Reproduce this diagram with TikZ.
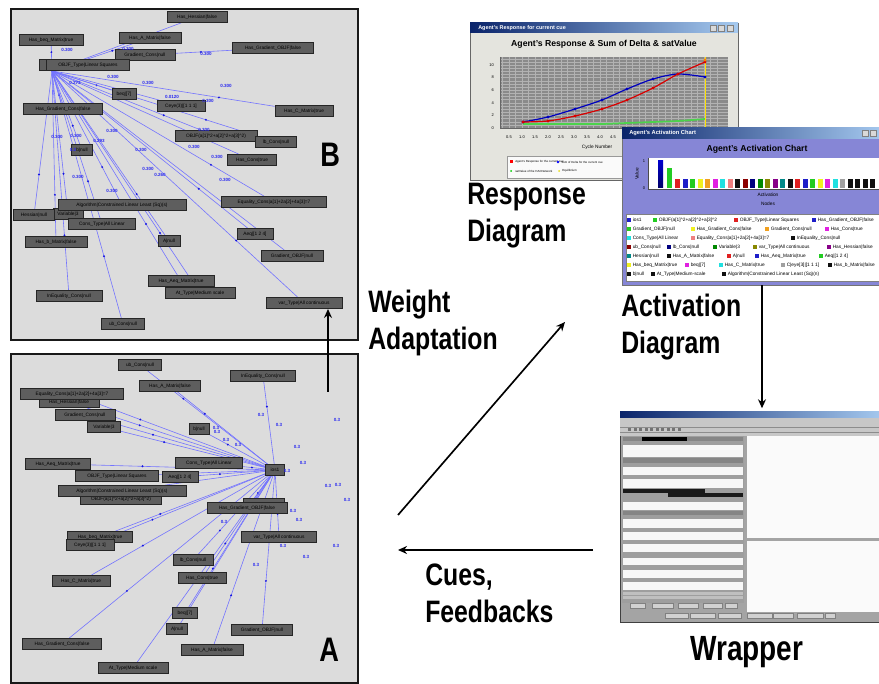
\documentclass[tikz,border=0pt]{standalone}
\usepackage{fontspec}
\setmainfont{Liberation Sans}
\newfontfamily\narrowfont{Liberation Sans}[FakeStretch=0.8]
\usetikzlibrary{arrows.meta,fit}
\pgfdeclarelayer{back}
\pgfdeclarelayer{edges}
\pgfsetlayers{back,edges,main}
\definecolor{panelbg}{HTML}{DCDCDC}
\definecolor{boxfill}{HTML}{5E5E5E}
\definecolor{edgeblue}{HTML}{7474FF}
\definecolor{dotblue}{HTML}{1515E0}
\definecolor{lblblue}{HTML}{2A2AF0}
\definecolor{winnavy}{HTML}{0A246A}
\definecolor{winlight}{HTML}{A6CAF0}
\definecolor{winbody}{HTML}{E4E4DE}
\definecolor{lavender}{HTML}{8686D6}
\definecolor{plotgray}{HTML}{8A8A8A}
\definecolor{wrapgray}{HTML}{A4A4A4}
\definecolor{cR}{HTML}{E02020}
\definecolor{cB}{HTML}{1E1EC8}
\definecolor{cG}{HTML}{22CC22}
\definecolor{cY}{HTML}{F0F020}
\definecolor{cO}{HTML}{F0A020}
\definecolor{cM}{HTML}{E020E0}
\definecolor{cC}{HTML}{20E0E0}
\definecolor{cP}{HTML}{F08080}
\definecolor{cK}{HTML}{101010}
\definecolor{cDR}{HTML}{8B0000}
\definecolor{cN}{HTML}{000080}
\definecolor{cGt}{HTML}{008800}
\definecolor{cOl}{HTML}{888800}
\definecolor{cPu}{HTML}{880088}
\definecolor{cT}{HTML}{008888}
\definecolor{cGr}{HTML}{A0A0A0}
\tikzset{
  bigtext/.style={inner sep=0pt, anchor=base west, font=\narrowfont\bfseries\fontsize{23.25}{28}\selectfont},
  gbox/.style={draw=black!85, fill=boxfill, line width=0.7pt, minimum height=8.25pt, inner sep=0pt, font=\fontsize{3.6}{4}\selectfont},
  edge/.style={draw=edgeblue, line width=0.45pt},
  wlabel/.style={text=lblblue, inner sep=0pt, font=\bfseries\fontsize{3.4}{4}\selectfont},
  flow/.style={draw=black, line width=1.25pt, -{Stealth[length=6.75pt,width=6pt]}},
  panel/.style={draw=black!90, fill=panelbg, line width=0.9pt},
  ticklab/.style={inner sep=0pt, font=\fontsize{3}{3.5}\selectfont},
  leg/.style={inner sep=0pt, anchor=west, font=\fontsize{3.6}{4}\selectfont},
  tinylab/.style={inner sep=0pt, anchor=west, font=\fontsize{2.2}{2.6}\selectfont},
}
\newcommand\GNode[5]{\node[gbox, minimum width=#4*0.75pt] (#1) at (#2,#3) {#5};}
\begin{document}
\begin{tikzpicture}[x=0.75pt,y=-0.75pt]
\useasboundingbox (0,0) rectangle (879,684);
\clip (0,0) rectangle (879,684);
\begin{pgfonlayer}{back}
\fill[white] (0,0) rectangle (879,684);
\draw[panel] (11,9) rectangle (358,340);
\draw[panel] (11,354) rectangle (358,683);
\end{pgfonlayer}

% ---------------- panel B ----------------
\GNode{bhes}{197}{17}{60}{Has\_Hessian|false}
\GNode{bbeq}{51}{40}{64}{Has\_beq\_Matrix|true}
\GNode{bam}{150}{38}{62}{Has\_A\_Matrix|false}
\GNode{bgc}{145}{55}{60}{Gradient\_Cons|null}
\GNode{bhgo}{273}{48}{81}{Has\_Gradient\_OBJF|false}
\GNode{bobjz}{44}{65}{10}{}
\GNode{bobjt}{88}{65}{83}{OBJF\_Type|Linear Squares}
\GNode{bbeqv}{124}{94}{24}{beq|[7]}
\GNode{bceye}{181}{106}{48}{Ceye(3)|[1 1 1]}
\GNode{bhgc}{63}{109}{79}{Has\_Gradient\_Cons|false}
\GNode{bhc}{304}{111}{58}{Has\_C\_Matrix|true}
\GNode{bobjf}{216}{136}{82}{OBJF(a[1]\textasciicircum 2+a[2]\textasciicircum 2+a[3]\textasciicircum 2)}
\GNode{blb}{276}{142}{41}{lb\_Cons|null}
\GNode{bb}{82}{150}{21}{b|null}
\GNode{bcons}{252}{160}{49}{Has\_Cons|true}
\GNode{beqc}{274}{202}{105}{Equality\_Cons|a[1]+2a[2]+4a[3]=7}
\GNode{bvar}{68}{214}{30}{Variable|3}
\GNode{balg}{122}{205}{128}{Algorithm|Constrained Linear Least (Sq)(s)}
\GNode{bhess}{34}{215}{41}{Hessian|null}
\GNode{bct}{102}{224}{67}{Cons\_Type|All Linear}
\GNode{baeq}{255}{234}{36}{Aeq|[1 2 4]}
\GNode{bhb}{56}{242}{62}{Has\_b\_Matrix|false}
\GNode{ba}{169}{241}{22}{A|null}
\GNode{bgo}{292}{256}{62}{Gradient\_OBJF|null}
\GNode{bhaeq}{181}{281}{66}{Has\_Aeq\_Matrix|true}
\GNode{bat}{200}{293}{70}{At\_Type|Medium scale}
\GNode{bineq}{69}{296}{66}{InEquality\_Cons|null}
\GNode{bvt}{304}{303}{76}{var\_Type|All continuous}
\GNode{bub}{123}{324}{43}{ub\_Cons|null}
\coordinate (hubB) at (52,71);
\begin{pgfonlayer}{edges}
\foreach \t in {bhes,bbeq,bam,bgc,bbeqv,bceye,bhgc,bhc,bobjf,blb,bb,bcons,beqc,bvar,balg,bhess,bct,baeq,bhb,ba,bgo,bhaeq,bat,bineq,bvt,bub}{
  \draw[edge] (hubB) -- (\t) coordinate[pos=0.75] (d\t);
  \fill[dotblue] (d\t) circle (1.1);
}
\draw[edge] (bgc) -- (bhgo) coordinate[pos=0.45] (dbhgo);
\fill[dotblue] (dbhgo) circle (1.1);
\end{pgfonlayer}
\foreach \x/\y/\t [count=\k] in {67/50/0.300,128/49/0.300,206/54/0.300,113/77/0.300,148/83/0.300,226/86/0.300,75/83/0.273,172/97/0.0120,208/101/0.300,57/137/0.300,76/136/0.300,112/131/0.300,99/141/0.293,73/150/0.2,141/150/0.300,194/147/0.300,204/130/0.300,217/157/0.300,148/169/0.300,160/175/0.260,225/180/0.300,78/177/0.300,112/191/0.300}
  \node[wlabel] (bl\k) at (\x,\y) {\t};
\node[bigtext, font=\narrowfont\bfseries\fontsize{25.5}{30}\selectfont] (labB) at (320,167) {B};

% ---------------- panel A ----------------
\GNode{aub}{140}{365}{43}{ub\_Cons|null}
\GNode{aineq}{263}{376}{65}{InEquality\_Cons|null}
\GNode{aam}{170}{386}{61}{Has\_A\_Matrix|false}
\GNode{ahes}{69}{402}{60}{Has\_Hessian|false}
\GNode{aeqc}{72}{394}{103}{Equality\_Cons|a[1]+2a[2]+4a[3]=7}
\GNode{agc}{85}{415}{60}{Gradient\_Cons|null}
\GNode{avar}{104}{427}{33}{Variable|3}
\GNode{ab}{199}{429}{20}{b|null}
\GNode{ahaeq}{58}{464}{65}{Has\_Aeq\_Matrix|true}
\GNode{act}{209}{463}{67}{Cons\_Type|All Linear}
\GNode{aobjt}{117}{476}{83}{OBJF\_Type|Linear Squares}
\GNode{aaeq}{180}{477}{36}{Aeq|[1 2 4]}
\GNode{aobjf}{121}{499}{81}{OBJF(a[1]\textasciicircum 2+a[2]\textasciicircum 2+a[3]\textasciicircum 2)}
\GNode{aalg}{122}{491}{128}{Algorithm|Constrained Linear Least (Sq)(s)}
\GNode{ahgoz}{264}{504}{41}{}
\GNode{ahgo}{247}{508}{80}{Has\_Gradient\_OBJF|false}
\GNode{ahbeq}{100}{537}{65}{Has\_beq\_Matrix|true}
\GNode{aceye}{90}{545}{48}{Ceye(3)|[1 1 1]}
\GNode{avt}{279}{537}{75}{var\_Type|All continuous}
\GNode{alb}{193}{560}{40}{lb\_Cons|null}
\GNode{ahc}{81}{581}{58}{Has\_C\_Matrix|true}
\GNode{acons}{202}{578}{48}{Has\_Cons|true}
\GNode{abeqv}{185}{613}{25}{beq|[7]}
\GNode{aa}{177}{629}{21}{A|null}
\GNode{ago}{262}{630}{61}{Gradient\_OBJF|null}
\GNode{ahgc}{62}{644}{79}{Has\_Gradient\_Cons|false}
\GNode{aamb}{212}{650}{62}{Has\_A\_Matrix|false}
\GNode{aat}{133}{668}{70}{At\_Type|Medium scale}
\GNode{aios}{275}{470}{19}{ios1}
\begin{pgfonlayer}{edges}
\foreach \t in {aub,aineq,aam,ahes,aeqc,agc,avar,ab,ahaeq,act,aobjt,aaeq,aalg,ahgo,ahbeq,aceye,avt,alb,ahc,acons,abeqv,aa,ago,ahgc,aamb,aat}{
  \draw[edge] (aios.center) -- (\t) coordinate[pos=0.72] (d\t);
  \fill[dotblue] (d\t) circle (1.1);
}
\end{pgfonlayer}
\foreach \x/\y [count=\k] in {261/415,279/425,337/420,297/447,303/463,328/486,338/485,347/500,293/511,299/520,283/546,336/546,306/557,256/565,224/522,226/440,238/445,216/428,217/432,287/471}
  \node[wlabel] (al\k) at (\x,\y) {0.3};
\node[bigtext, font=\narrowfont\bfseries\fontsize{25.5}{30}\selectfont] (labA) at (319,661) {A};

% ---------------- response window ----------------
\node[fit={(470,23) (738,180)}, inner sep=0pt, draw=black!60, fill=winbody, line width=0.7pt] (respwin) {};
\shade[left color=winnavy, right color=winlight] (470,23) rectangle (738,33);
\node[inner sep=0pt, anchor=west, text=white, font=\bfseries\fontsize{4.1}{5}\selectfont] (resptb) at (478,28) {Agent's Response for current cue};
\foreach \bx [count=\k] in {710,718,727}
  \draw[fill=black!15, draw=black!50, line width=0.3pt] (\bx,25) rectangle ++(6,6);
\node[inner sep=0pt, font=\bfseries\fontsize{6.5}{7}\selectfont] (respct) at (604,44) {Agent's Response \& Sum of Delta \& satValue};
\fill[plotgray] (500,57) rectangle (728,128);
\foreach \i in {0,...,33} \draw[black!30, line width=0.25pt] ({502.5+6.5*\i},57) -- ({502.5+6.5*\i},128);
\foreach \v in {1,...,22} \draw[black!30, line width=0.25pt] (500,{128-3.15*\v}) -- (728,{128-3.15*\v});
\draw[black!60, line width=0.4pt] (500,57) -- (500,128) -- (728,128);
\foreach \v in {0,2,...,10} \node[ticklab, anchor=east] (ry\v) at (494,{128-6.3*\v}) {\v};
\foreach \l [count=\i from 0] in {0.5,1.0,1.5,2.0,2.5,3.0,3.5,4.0,4.5,5.0,5.5,6.0,6.5,7.0,7.5,8.0,8.5}
  \node[ticklab] (rx\i) at ({509+13*\i},137) {\l};
\draw[green!75!black!70!white, line width=1.3pt] plot[smooth] coordinates {(523,124) (548,124) (575,124) (602,124) (627,123) (653,122) (678,121) (705,119)};
\draw[yellow!85!orange, line width=0.7pt] (705,57) -- (705,128);
\draw[blue!75!black, line width=0.9pt] plot[smooth] coordinates {(523,122) (548,117) (575,109) (602,100) (627,89) (653,79) (678,74) (705,77)};
\foreach \p in {(523,122),(548,117),(575,109),(602,100),(627,89),(653,79),(678,74),(705,77)} \fill[blue!75!black] \p circle (1.7);
\draw[red!85!black, line width=0.9pt] plot[smooth] coordinates {(523,122) (548,121) (575,116) (602,109) (627,100) (653,88) (678,74) (705,62)};
\foreach \p in {(523,122),(548,121),(575,116),(602,109),(627,100),(653,88),(678,74),(705,62)} \fill[red!85!black] \p circle (1.7);
\fill[orange] (705,60) circle (1.7);
\node[ticklab, font=\fontsize{3.6}{4}\selectfont] (respxl) at (597,147) {Cycle Number};
\draw[fill=white!96!gray, draw=black!40, line width=0.4pt] (507,156) rectangle (735,178);
\fill[red] (510,160.5) rectangle ++(3,3);
\node[tinylab] (rl1) at (515,162) {Agent's Response for the current cue};
\fill[blue] (558,162) circle (1.3);
\node[tinylab] (rl2) at (561,162) {Sum of Delta for the current cue};
\fill[green!80!black] (511,171) circle (1);
\node[tinylab] (rl3) at (515,171) {satValue of the HACNetwork};
\fill[yellow!90!black] (559,171) circle (1);
\node[tinylab] (rl4) at (562,171) {Equilibrium};

% ---------------- activation window ----------------
\node[fit={(622,128) (885,285)}, inner sep=0pt, draw=black!55, fill=lavender, line width=0.6pt] (actwin) {};
\shade[left color=winnavy, right color=winlight] (622,128) rectangle (885,139);
\node[inner sep=0pt, anchor=west, text=white, font=\bfseries\fontsize{4.3}{5}\selectfont] (acttb) at (629,133.5) {Agent's Activation Chart};
\foreach \bx in {862,870}
  \draw[fill=black!15, draw=black!50, line width=0.3pt] (\bx,130) rectangle ++(6,6);
\node[inner sep=0pt, font=\bfseries\fontsize{6.5}{7}\selectfont] (actct) at (757,149) {Agent's Activation Chart};
\fill[white] (648,158) rectangle (885,189);
\draw[black!70, line width=0.4pt] (648,158) -- (648,189) -- (885,189);
\node[ticklab, rotate=90, font=\fontsize{3.6}{4}\selectfont] (actval) at (637,174) {Value};
\node[ticklab] (ay1) at (644,161) {1};
\node[ticklab] (ay0) at (644,188) {0};
\shade[top color=blue!80!black, bottom color=blue!40!black] (658,161) rectangle (663,188);
\fill[cG] (667,168) rectangle (672,188);
\foreach \c [count=\i from 0] in {cR,cB,cG,cY,cO,cM,cC,cP,cK,cDR,cN,cGt,cOl,cPu,cT,cK,cR,cB,cG,cY,cM,cC,cGr,cK,cK,cK,cK}
  \fill[\c] ({675+7.5*\i},179) rectangle ++(5,9);
\node[ticklab, font=\fontsize{3.6}{4}\selectfont] (actxl) at (768,195) {Activation};
\node[ticklab, font=\fontsize{3.6}{4}\selectfont] (actnl) at (768,204) {Nodes};
\draw[fill=white, draw=black!50, line width=0.4pt] (626,214) rectangle (885,281);
\foreach \r/\x/\c/\t [count=\k] in {
 220/627/cB/{ios1}, 220/653/cG/{OBJF(a[1]\textasciicircum 2+a[2]\textasciicircum 2+a[3]\textasciicircum 2}, 220/734/cR/{OBJF\_Type|Linear Squares}, 220/812/cB/{Has\_Gradient\_OBJF|false},
 229/627/cG/{Gradient\_OBJF|null}, 229/691/cY/{Has\_Gradient\_Cons|false}, 229/765/cO/{Gradient\_Cons|null}, 229/825/cM/{Has\_Cons|true},
 238/627/cC/{Cons\_Type|All Linear}, 238/691/cP/{Equality\_Cons|a[1]+2a[2]+4a[3]=7}, 238/791/cK/{InEquality\_Cons|null},
 247/627/cDR/{ub\_Cons|null}, 247/667/cN/{lb\_Cons|null}, 247/713/cGt/{Variable|3}, 247/753/cOl/{var\_Type|All continuous}, 247/827/cPu/{Has\_Hessian|false},
 256/627/cT/{Hessian|null}, 256/667/cK/{Has\_A\_Matrix|false}, 256/727/cR/{A|null}, 256/755/cB/{Has\_Aeq\_Matrix|true}, 256/819/cG/{Aeq|[1 2 4]},
 265/627/cY/{Has\_beq\_Matrix|true}, 265/685/cM/{beq|[7]}, 265/719/cC/{Has\_C\_Matrix|true}, 265/781/cGr/{C|eye[3]|[1 1 1]}, 265/828/cK/{Has\_b\_Matrix|false},
 274/627/cK/{b|null}, 274/651/cK/{At\_Type|Medium-scale}, 274/722/cK/{Algorithm|Constrained Linear Least (Sq)(n)}}{
  \fill[\c] (\x,\r-1.8) rectangle ++(3.6,3.6);
  \node[leg] (lg\k) at (\x+5.5,\r) {\t};
}

% ---------------- wrapper window ----------------
\node[fit={(620,412) (885,622)}, inner sep=0pt, draw=black!75, fill=wrapgray, line width=0.6pt] (wrapwin) {};
\shade[left color=winnavy, right color=winlight] (620,412) rectangle (885,418);
\fill[black!22] (620,418) rectangle (885,436);
\draw[black!45, line width=0.3pt] (620,427) -- (885,427) (620,432) -- (885,432);
\foreach \i in {0,...,9} \fill[black!55] ({628+5.5*\i},428.5) rectangle ++(3,2.5);
\fill[black!38] (622,436) rectangle (744,603);
\foreach \ya/\yb in {445/457,467/475,479/488,502/510,519/528,532/540,544/552,558/565,570/578,582/590}
  \fill[white!94!gray] (623,\ya) rectangle (743,\yb);
\foreach \ya/\yb in {437/441,458/463,511/515}
  \fill[black!48] (623,\ya) rectangle (743,\yb);
\fill[black] (642,437) rectangle (687,441);
\fill[black!90] (623,489) rectangle (705,493);
\fill[black!90] (668,493) rectangle (743,497);
\fill[black!25] (623,592) rectangle (743,595);
\fill[black!25] (623,596) rectangle (743,599);
\foreach \xa/\xb in {630/645,652/673,678/698,703/722,725/737}
  \draw[fill=black!18, draw=black!50, line width=0.3pt] (\xa,603) rectangle (\xb,608);
\fill[white!96!gray] (747,436) rectangle (885,538);
\fill[white!96!gray] (747,541) rectangle (885,612);
\foreach \xa/\xb in {665/688,690/715,718/741,747/772,773/793,797/823,825/835}
  \draw[fill=black!18, draw=black!50, line width=0.3pt] (\xa,613) rectangle (\xb,618);

% ---------------- captions ----------------
\node[bigtext] (tw1) at (368,313) {Weight};
\node[bigtext] (tw2) at (368,350) {Adaptation};
\node[bigtext] (tr1) at (467,205) {Response};
\node[bigtext] (tr2) at (467,242) {Diagram};
\node[bigtext] (ta1) at (621,317) {Activation};
\node[bigtext] (ta2) at (621,354) {Diagram};
\node[bigtext] (tc1) at (425,585) {Cues,};
\node[bigtext] (tc2) at (425,622) {Feedbacks};
\node[bigtext, font=\narrowfont\bfseries\fontsize{26.25}{30}\selectfont] (twr) at (690,660) {Wrapper};

% ---------------- flow arrows ----------------
\coordinate (wstart) at (328,392);
\draw[flow] (wstart) -- (wstart |- bvt.south);
\coordinate (dstart) at (398,515);
\coordinate (dend) at (565,322);
\draw[flow] (dstart) -- (dend);
\coordinate (hstart) at (593,550);
\coordinate (hend) at (398,550);
\draw[flow] (hstart) -- (hend);
\coordinate (avx) at (762,0);
\draw[flow, shorten >=2.5pt] (actwin.south -| avx) -- (wrapwin.north -| avx);
\end{tikzpicture}
\end{document}
